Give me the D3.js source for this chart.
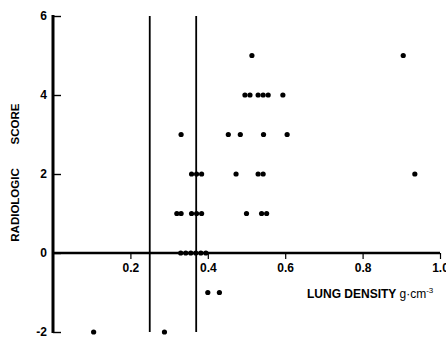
<!DOCTYPE html>
<html>
<head>
<meta charset="utf-8">
<script src="https://d3js.org/d3.v7.min.js"></script>
<style>
  body { margin: 0; background: #fff; }
  svg { display: block; font-family: "Liberation Sans", Arial, sans-serif; }
  text { font-weight: bold; fill: #000; }
</style>
</head>
<body>
<svg width="446" height="338"></svg>
<script>
// lung density (g/cm3) and radiologic score, one entry per patient
var density = [
  0.514, 0.905,
  0.496, 0.509, 0.530, 0.543, 0.556, 0.594,
  0.331, 0.453, 0.484, 0.544, 0.605,
  0.358, 0.371, 0.384, 0.473, 0.530, 0.543, 0.935,
  0.320, 0.331, 0.358, 0.371, 0.384, 0.500, 0.539, 0.552,
  0.330, 0.343, 0.356, 0.369, 0.382, 0.395,
  0.400, 0.430,
  0.105, 0.288
];
var score = [
  5, 5,
  4, 4, 4, 4, 4, 4,
  3, 3, 3, 3, 3,
  2, 2, 2, 2, 2, 2, 2,
  1, 1, 1, 1, 1, 1, 1, 1,
  0, 0, 0, 0, 0, 0,
  -1, -1,
  -2, -2
];
var cutoffs = [0.25, 0.37];
var xTicks = [0.2, 0.4, 0.6, 0.8, 1.0];
var yTicks = [-2, 0, 2, 4, 6];

var svg = d3.select("svg");

var x = d3.scaleLinear().domain([0, 1]).range([53, 440]);
var y = d3.scaleLinear().domain([-2, 6]).range([332, 16]);

// vertical cut-off lines
svg.append("g")
  .selectAll("line")
  .data(cutoffs)
  .enter().append("line")
  .attr("x1", d => x(d)).attr("x2", d => x(d))
  .attr("y1", y(6)).attr("y2", y(-2))
  .attr("stroke", "#000")
  .attr("stroke-width", 1.8);

// x axis sits on score 0
var xAxis = svg.append("g")
  .attr("transform", "translate(0," + y(0) + ")")
  .call(d3.axisBottom(x).tickValues(xTicks).tickFormat(d3.format(".1f")).tickSize(6).tickPadding(4));
xAxis.select(".domain").remove();
xAxis.selectAll(".tick line").attr("stroke-width", 1.2);
xAxis.selectAll("text").style("font-size", "12px").style("font-family", "inherit");
xAxis.append("line")
  .attr("x1", x(0)).attr("x2", x(1))
  .attr("stroke", "#000").attr("stroke-width", 2.6);

var yAxis = svg.append("g")
  .attr("transform", "translate(" + x(0) + ",0)")
  .call(d3.axisRight(y).tickValues(yTicks).tickFormat(d => String(d)).tickSize(8));
yAxis.select(".domain").remove();
yAxis.selectAll(".tick line").attr("stroke-width", 1.4);
yAxis.selectAll("text")
  .attr("x", -6)
  .attr("text-anchor", "end")
  .style("font-size", "12px")
  .style("font-family", "inherit");
yAxis.append("line")
  .attr("y1", y(6) - 1).attr("y2", y(-2) + 1)
  .attr("stroke", "#000").attr("stroke-width", 3);

// points
svg.append("g")
  .selectAll("circle")
  .data(density)
  .enter().append("circle")
  .attr("cx", d => x(d))
  .attr("cy", (d, i) => y(score[i]))
  .attr("r", 2.6)
  .attr("fill", "#000");

// axis titles
svg.append("text")
  .attr("transform", "translate(19,124) rotate(-90)")
  .attr("text-anchor", "middle")
  .style("font-size", "11.5px")
  .text("SCORE");
svg.append("text")
  .attr("transform", "translate(19,205) rotate(-90)")
  .attr("text-anchor", "middle")
  .style("font-size", "11.5px")
  .text("RADIOLOGIC");

var xt = svg.append("text")
  .attr("x", 307)
  .attr("y", 298)
  .style("font-size", "12px");
xt.append("tspan").text("LUNG DENSITY ");
xt.append("tspan").style("font-weight", "normal").text("g·cm");
xt.append("tspan").style("font-weight", "normal").style("font-size", "8px").attr("dy", -5).text("-3");
</script>
</body>
</html>
